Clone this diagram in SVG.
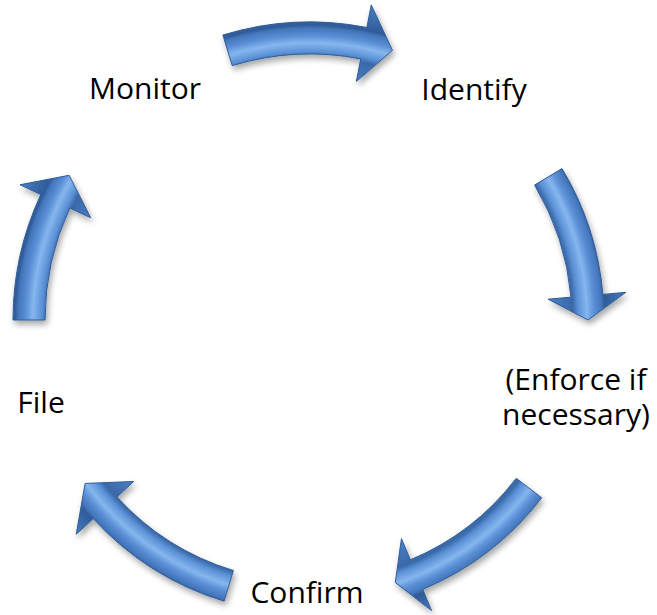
<svg xmlns="http://www.w3.org/2000/svg" width="657" height="615" viewBox="0 0 657 615">
<style>
.lbl{font-family:"Open Sans","Liberation Sans",sans-serif;font-size:30px;fill:#000;text-anchor:middle}
.arr{fill:url(#bev);stroke:#2f5c98;stroke-width:1;stroke-linejoin:miter;filter:url(#sh)}
</style>
<defs>
<radialGradient id="bev" gradientUnits="userSpaceOnUse" cx="310" cy="320" r="320">
<stop offset="0" stop-color="#4a7fc4"/>
<stop offset="0.75" stop-color="#4a7fc4"/>
<stop offset="0.822" stop-color="#3a69a8"/>
<stop offset="0.838" stop-color="#5a90d6"/>
<stop offset="0.866" stop-color="#86b6ee"/>
<stop offset="0.888" stop-color="#5a90d6"/>
<stop offset="0.912" stop-color="#4376bb"/>
<stop offset="0.922" stop-color="#2f5c98"/>
<stop offset="1" stop-color="#4a7fc4"/>
</radialGradient>
<filter id="sh" x="-20%" y="-20%" width="150%" height="150%">
<feGaussianBlur in="SourceAlpha" stdDeviation="3"/>
<feOffset dx="2" dy="4" result="o"/>
<feComponentTransfer><feFuncA type="linear" slope="0.35"/></feComponentTransfer>
<feMerge><feMergeNode/><feMergeNode in="SourceGraphic"/></feMerge>
</filter>
</defs>
<rect width="657" height="615" fill="#fff"/>
<g id="connectors">
<path class="arr" d="M222.87,35.02 A298,298 0 0 1 366.86,27.47 L371.25,4.9 L392.45,50.32 L356.37,81.46 L360.76,58.89 A266,266 0 0 0 232.23,65.62 Z"/>
<path class="arr" d="M562.01,168.58 A294,294 0 0 1 602.88,294.38 L625.79,292.37 L588,320 L548.09,299.17 L571,297.16 A262,262 0 0 0 534.58,185.06 Z"/>
<path class="arr" d="M541.66,497.76 A292,292 0 0 1 422.69,589.38 L431.56,610.6 L395.29,582.49 L401.46,538.64 L410.34,559.86 A260,260 0 0 0 516.27,478.28 Z"/>
<path class="arr" d="M224.04,601.15 A294,294 0 0 1 93.24,518.62 L76.28,534.16 L85.09,483.41 L133.79,481.47 L116.83,497 A262,262 0 0 0 233.4,570.55 Z"/>
<path class="arr" d="M13,320 A297,297 0 0 1 40.83,194.48 L19.98,184.76 L69.14,175.27 L90.67,217.73 L69.83,208 A265,265 0 0 0 45,320 Z"/>
</g>
<g id="monitor"><text class="lbl" x="145" y="99">Monitor</text></g>
<g id="identify"><text class="lbl" x="474" y="100">Identify</text></g>
<g id="enforce"><text class="lbl" x="576" y="390">(Enforce if</text><text class="lbl" x="576" y="425">necessary)</text></g>
<g id="confirm"><text class="lbl" x="307" y="603">Confirm</text></g>
<g id="file"><text class="lbl" x="41" y="413">File</text></g>
</svg>
